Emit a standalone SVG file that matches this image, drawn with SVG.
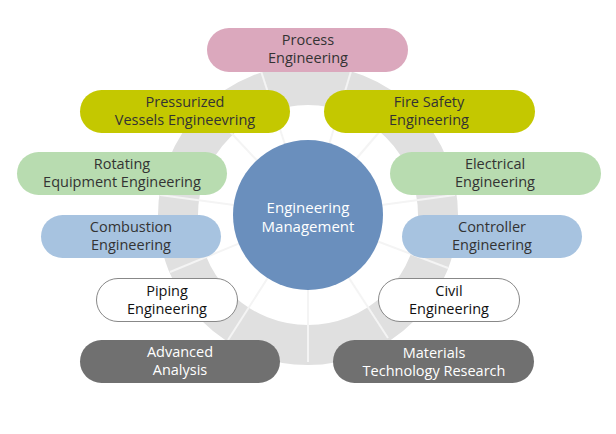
<svg xmlns="http://www.w3.org/2000/svg" width="616" height="434" viewBox="0 0 616 434">
<style>
text{font-family:"Open Sans","DejaVu Sans",sans-serif;font-size:14.5px;text-anchor:middle;fill:#333}
.w{fill:#fff}
.sp{stroke:#f4f4f4;stroke-width:2}
</style>
<rect width="616" height="434" fill="#fff"/>
<g id="ring">
<circle cx="308" cy="215" r="130" fill="none" stroke="#e0e0e0" stroke-width="40"/>
<g class="sp">
<line x1="308" y1="215" x2="352" y2="68"/>
<line x1="308" y1="215" x2="260" y2="68"/>
<line x1="308" y1="215" x2="205" y2="105"/>
<line x1="308" y1="215" x2="405" y2="102"/>
<line x1="308" y1="215" x2="160" y2="195"/>
<line x1="308" y1="215" x2="455" y2="195"/>
<line x1="308" y1="215" x2="170" y2="272"/>
<line x1="308" y1="215" x2="448" y2="268"/>
<line x1="308" y1="215" x2="228" y2="340"/>
<line x1="308" y1="215" x2="388" y2="338"/>
<line x1="308" y1="215" x2="308" y2="362"/>
</g>
</g>
<g id="center"><circle cx="308" cy="215" r="75" fill="#6a8fbd"/>
<text class="w" x="308" y="213" style="font-size:15px">Engineering</text><text class="w" x="308" y="232" style="font-size:15px">Management</text></g>
<g id="process"><rect x="207" y="28" width="201" height="44" rx="22" fill="#dba8bd"/><text x="308" y="45">Process</text><text x="308" y="63">Engineering</text></g>
<g id="pressurized"><rect x="80" y="90" width="210" height="43" rx="21.5" fill="#c4c800"/><text x="185" y="107">Pressurized</text><text x="185" y="125">Vessels Engineevring</text></g>
<g id="fire"><rect x="324" y="90" width="211" height="43" rx="21.5" fill="#c4c800"/><text x="429" y="107">Fire Safety</text><text x="429" y="125">Engineering</text></g>
<g id="rotating"><rect x="17" y="152" width="210" height="43" rx="21.5" fill="#b8dcb0"/><text x="122" y="169">Rotating</text><text x="122" y="187">Equipment Engineering</text></g>
<g id="electrical"><rect x="390" y="152" width="211" height="43" rx="21.5" fill="#b8dcb0"/><text x="495" y="169">Electrical</text><text x="495" y="187">Engineering</text></g>
<g id="combustion"><rect x="41" y="215" width="180" height="43" rx="21.5" fill="#a7c3e0"/><text x="131" y="232">Combustion</text><text x="131" y="250">Engineering</text></g>
<g id="controller"><rect x="402" y="215" width="180" height="43" rx="21.5" fill="#a7c3e0"/><text x="492" y="232">Controller</text><text x="492" y="250">Engineering</text></g>
<g id="piping"><rect x="96.5" y="278.5" width="141" height="43" rx="21.5" fill="#fff" stroke="#888"/><text x="167" y="296" style="fill:#111">Piping</text><text x="167" y="314" style="fill:#111">Engineering</text></g>
<g id="civil"><rect x="378.5" y="278.5" width="141" height="43" rx="21.5" fill="#fff" stroke="#888"/><text x="449" y="296" style="fill:#111">Civil</text><text x="449" y="314" style="fill:#111">Engineering</text></g>
<g id="advanced"><rect x="80" y="340" width="200" height="43" rx="21.5" fill="#707070"/><text class="w" x="180" y="357">Advanced</text><text class="w" x="180" y="375">Analysis</text></g>
<g id="materials"><rect x="333" y="340" width="201" height="43" rx="21.5" fill="#707070"/><text class="w" x="434" y="358">Materials</text><text class="w" x="434" y="376">Technology Research</text></g>
</svg>
